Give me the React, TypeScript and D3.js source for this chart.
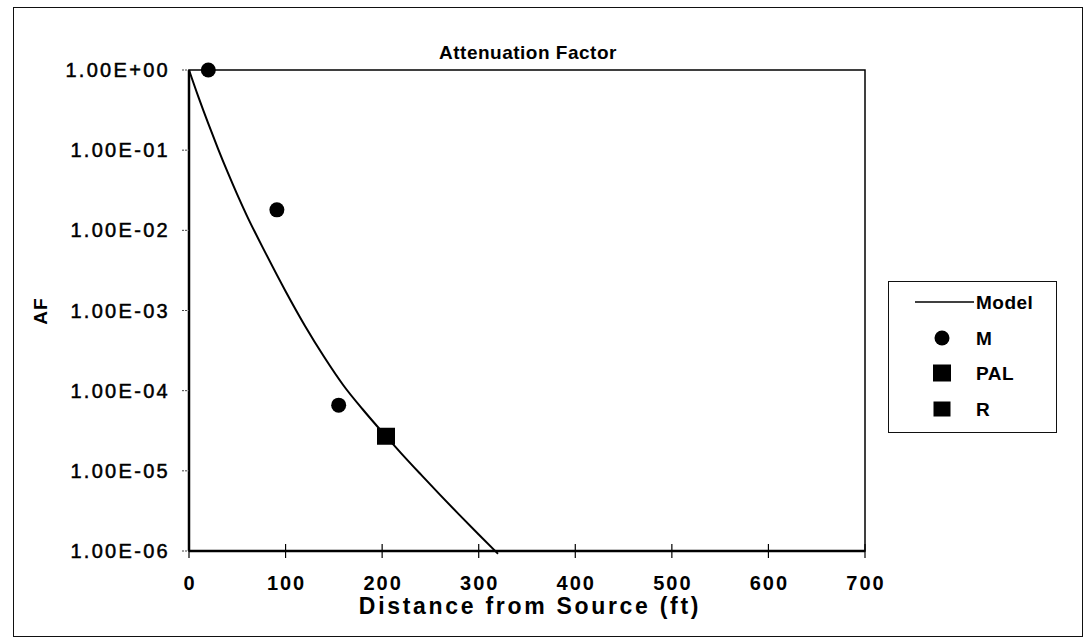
import React from "react";
import * as d3 from "d3";

// ---- data ----
const modelX = [0, 10, 20, 30, 40, 50, 60, 80, 100, 120, 140, 160, 180, 200, 220, 240, 260, 280, 300, 320];
const modelY = [1, 0.4519, 0.2138, 0.1047, 0.05309, 0.02786, 0.01514, 0.005012, 0.001738, 6.457e-4, 2.63e-4, 1.161e-4, 5.821e-5, 3.055e-5, 1.641e-5, 9.02e-6, 5.01e-6, 2.818e-6, 1.603e-6, 9.23e-7];
const mX = [20, 91, 155];
const mY = [1.0, 0.018, 6.6e-5];
const palX = [204];
const palY = [2.7e-5];
const rX = [204];
const rY = [2.7e-5];
const xTicks = [0, 100, 200, 300, 400, 500, 600, 700];
const yTicks = [1, 1e-1, 1e-2, 1e-3, 1e-4, 1e-5, 1e-6];
const yTickLabels = ["1.00E+00", "1.00E-01", "1.00E-02", "1.00E-03", "1.00E-04", "1.00E-05", "1.00E-06"];
const legendLabels = ["Model", "M", "PAL", "R"];

const W = 1091;
const H = 643;
const plot = { left: 189, right: 865, top: 70, bottom: 551 };
const FONT = "'Liberation Sans', Arial, sans-serif";

export default function App() {
  const x = d3.scaleLinear().domain([0, 700]).range([plot.left, plot.right]);
  const y = d3.scaleLog().domain([1e-6, 1]).range([plot.bottom, plot.top]);
  const line = d3
    .line<number>()
    .x((_, i) => x(modelX[i]))
    .y((d) => y(d))
    .curve(d3.curveMonotoneX);
  const modelPath = line(modelY) || "";

  const legendYs = [302, 338, 373, 409];
  const legX = 942;

  return (
    <svg
      width={W}
      height={H}
      style={{ position: "absolute", left: 0, top: 0, background: "#fff" }}
      fontFamily={FONT}
    >
      <rect x={0} y={0} width={W} height={H} fill="#fff" />
      {/* outer frame */}
      <rect x={13.5} y={7.5} width={1069} height={629} fill="none" stroke="#111" strokeWidth={1} />

      {/* title */}
      <text x={528} y={59} textAnchor="middle" fontSize={19} fontWeight="bold" letterSpacing={0.5}>
        Attenuation Factor
      </text>

      {/* plot box */}
      <rect
        x={plot.left}
        y={plot.top}
        width={plot.right - plot.left}
        height={plot.bottom - plot.top}
        fill="none"
        stroke="#000"
        strokeWidth={1.5}
      />
      <line x1={plot.left} x2={plot.left} y1={plot.top} y2={plot.bottom} stroke="#000" strokeWidth={2.5} />
      <line x1={plot.left} x2={plot.right} y1={plot.bottom} y2={plot.bottom} stroke="#000" strokeWidth={2.5} />

      {/* y ticks */}
      {yTicks.map((t, i) => (
        <g key={"yt" + i}>
          <line x1={plot.left - 7} x2={plot.left} y1={y(t)} y2={y(t)} stroke="#444" strokeWidth={1} strokeDasharray="2,1" />
          <text
            x={170}
            y={y(t) + 7}
            textAnchor="end"
            fontSize={20}
            letterSpacing={2.3}
            stroke="#000"
            strokeWidth={0.5}
          >
            {yTickLabels[i]}
          </text>
        </g>
      ))}

      {/* x ticks */}
      {xTicks.map((t) => (
        <g key={"xt" + t}>
          <line x1={x(t)} x2={x(t)} y1={plot.bottom - 7} y2={plot.bottom + 7} stroke="#000" strokeWidth={1.2} />
          <text x={x(t) + 1} y={590} textAnchor="middle" fontSize={20} fontWeight="bold" letterSpacing={2}>
            {t}
          </text>
        </g>
      ))}

      {/* axis titles */}
      <text x={530} y={614} textAnchor="middle" fontSize={23} fontWeight="bold" letterSpacing={2.7}>
        Distance from Source (ft)
      </text>
      <text
        transform={`translate(47,311) rotate(-90)`}
        textAnchor="middle"
        fontSize={19}
        fontWeight="bold"
        letterSpacing={1}
      >
        AF
      </text>

      {/* model curve */}
      <path d={modelPath} fill="none" stroke="#000" strokeWidth={2} />

      {/* M points */}
      {mX.map((v, i) => (
        <circle key={"m" + i} cx={x(v)} cy={y(mY[i])} r={7.5} fill="#000" />
      ))}
      {/* PAL points */}
      {palX.map((v, i) => (
        <rect key={"p" + i} x={x(v) - 9} y={y(palY[i]) - 8.5} width={18} height={17} fill="#000" />
      ))}
      {/* R points */}
      {rX.map((v, i) => (
        <rect key={"r" + i} x={x(v) - 7.5} y={y(rY[i]) - 7} width={15} height={14} fill="#000" />
      ))}

      {/* legend */}
      <rect x={888.5} y={281.5} width={168} height={151} fill="#fff" stroke="#111" strokeWidth={1} />
      <line x1={915} x2={974} y1={legendYs[0]} y2={legendYs[0]} stroke="#000" strokeWidth={1.5} />
      <circle cx={legX} cy={legendYs[1]} r={7.5} fill="#000" />
      <rect x={legX - 9} y={legendYs[2] - 8.5} width={18} height={17} fill="#000" />
      <rect x={legX - 8.5} y={legendYs[3] - 7.5} width={17} height={15} fill="#000" />
      {legendLabels.map((l, i) => (
        <text key={l} x={976} y={legendYs[i] + 7} fontSize={19} fontWeight="bold" letterSpacing={0.5}>
          {l}
        </text>
      ))}
    </svg>
  );
}
